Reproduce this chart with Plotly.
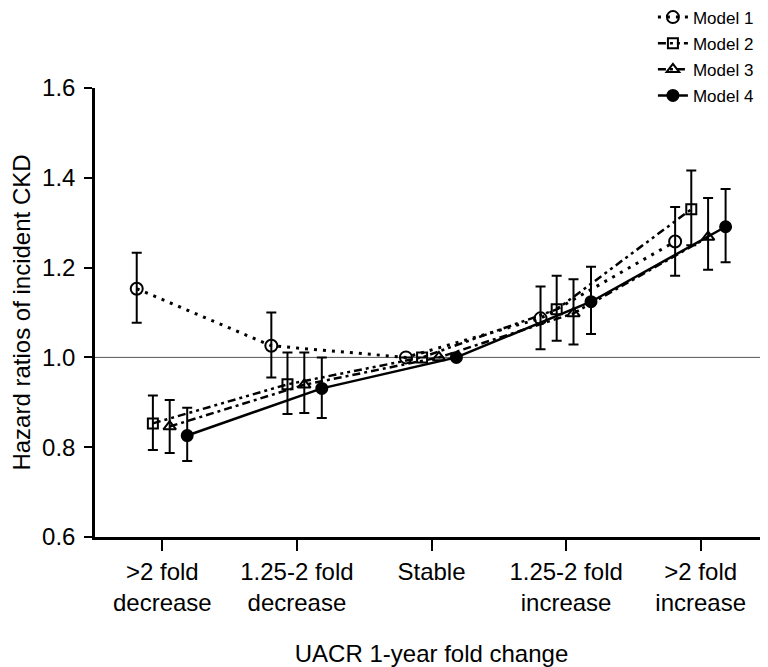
import plotly.graph_objects as go

categories = [">2 fold<br>decrease", "1.25-2 fold<br>decrease", "Stable",
              "1.25-2 fold<br>increase", ">2 fold<br>increase"]
model_names = ["Model 1", "Model 2", "Model 3", "Model 4"]

m1_hr = [1.153, 1.026, 1.000, 1.087, 1.258]
m1_lo = [1.077, 0.955, 1.000, 1.018, 1.182]
m1_hi = [1.233, 1.100, 1.000, 1.158, 1.335]

m2_hr = [0.853, 0.940, 1.000, 1.107, 1.330]
m2_lo = [0.794, 0.874, 1.000, 1.037, 1.250]
m2_hi = [0.915, 1.011, 1.000, 1.182, 1.416]

m3_hr = [0.846, 0.939, 1.000, 1.098, 1.268]
m3_lo = [0.787, 0.876, 1.000, 1.029, 1.195]
m3_hi = [0.905, 1.011, 1.000, 1.174, 1.355]

m4_hr = [0.826, 0.931, 1.000, 1.124, 1.291]
m4_lo = [0.769, 0.865, 1.000, 1.052, 1.212]
m4_hi = [0.888, 1.000, 1.000, 1.202, 1.375]

y_ticks = [0.6, 0.8, 1.0, 1.2, 1.4, 1.6]

series = [
    (m1_hr, m1_lo, m1_hi),
    (m2_hr, m2_lo, m2_hi),
    (m3_hr, m3_lo, m3_hi),
    (m4_hr, m4_lo, m4_hi),
]
offsets = [-0.19, -0.07, 0.055, 0.185]
symbols = ["circle-open", "square-open", "triangle-up-open", "circle"]
msizes = [12, 10, 11, 11]
dashes = ["3px,6px", "8px,4px,3px,4px,3px,4px", "8px,4px,3px,4px", "solid"]
lwidths = [3, 2.5, 2.5, 2.5]

FONT = "Arial, Liberation Sans, sans-serif"

fig = go.Figure()
fig.add_hline(y=1.0, line_width=1, line_color="#555555", layer="below")

for i, (hr, lo, hi) in enumerate(series):
    xs = [k + offsets[i] for k in range(len(categories))]
    fig.add_trace(go.Scatter(
        x=xs, y=hr, name=model_names[i], mode="lines+markers",
        legendgroup=model_names[i],
        line=dict(color="black", width=lwidths[i], dash=dashes[i]),
        marker=dict(symbol=symbols[i], size=msizes[i], color="black",
                    line=dict(color="black", width=2)),
        error_y=dict(type="data", symmetric=False,
                     array=[h - m for h, m in zip(hi, hr)],
                     arrayminus=[m - l for m, l in zip(hr, lo)],
                     color="black", thickness=2, width=5),
    ))

# page body has an 8px margin, so the figure is 760x659 placed at (8, 8)
fig.update_layout(
    width=760, height=659,
    margin=dict(l=87, r=0, t=80, b=130, autoexpand=False),
    paper_bgcolor="white", plot_bgcolor="white",
    font=dict(family=FONT, color="black", size=24),
    legend=dict(x=0.829, xanchor="left", y=1.197, yanchor="top",
                font=dict(size=17, family=FONT), bgcolor="rgba(0,0,0,0)",
                tracegroupgap=1),
)
fig.update_xaxes(
    range=[-0.5, 4.5], tickmode="array", tickvals=list(range(len(categories))),
    ticktext=categories, showgrid=False, zeroline=False,
    showline=True, linecolor="black", linewidth=2.5,
    ticks="outside", ticklen=11, tickwidth=2, tickcolor="black",
    tickfont=dict(size=24),
    title=dict(text="UACR 1-year fold change", font=dict(size=24), standoff=33),
)
fig.update_yaxes(
    range=[0.6, 1.6], tickmode="array", tickvals=y_ticks,
    ticktext=[f"{v:.1f}" for v in y_ticks], showgrid=False, zeroline=False,
    showline=True, linecolor="black", linewidth=2.5,
    ticks="outside", ticklen=8, tickwidth=2, tickcolor="black",
    tickfont=dict(size=24), ticklabelstandoff=4,
    title=dict(text="Hazard ratios of incident CKD", font=dict(size=24), standoff=12),
)

fig.write_html("out.html")
